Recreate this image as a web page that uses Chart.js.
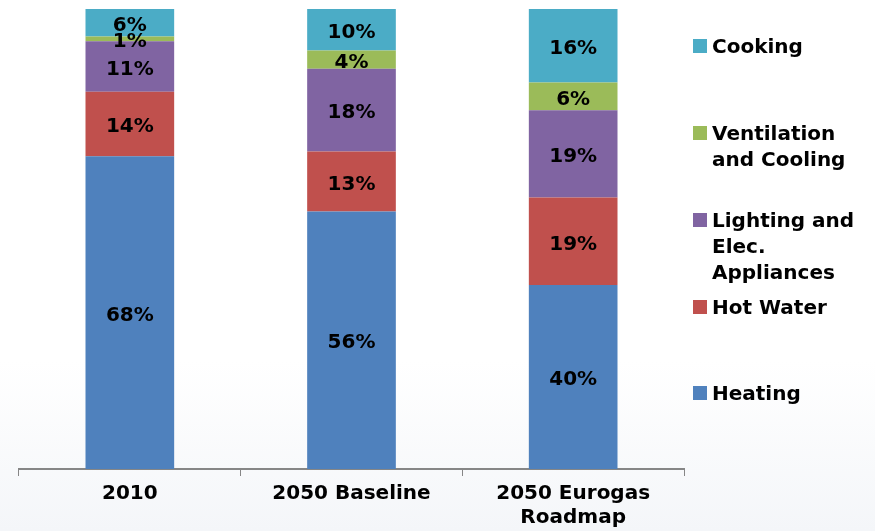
<!DOCTYPE html>
<html lang="en">
<head>
    <meta charset="UTF-8">
    <title> Energy use shares </title>
    <style>
        html, body { margin: 0; padding: 0; }
        body {
            width: 875px; height: 531px; overflow: hidden; position: relative;
            background: linear-gradient(180deg, #ffffff 0%, #ffffff 68%, #f4f6f9 100%);
            font-family: "DejaVu Sans", Verdana, sans-serif;
        }
        #wrap { position: absolute; left: 0; top: 0; width: 875px; height: 531px; }
        .leg { position: absolute; left: 693px; font-weight: bold; font-size: 20px; line-height: 26px; color: #000; }
        .leg .box { position: absolute; left: 0; top: 6px; width: 14px; height: 14px; }
        .leg .txt { position: absolute; left: 19px; top: 0; width: 170px; }
    </style>
</head>
<body>
    <div id="wrap"><canvas id="chart" width="875" height="531"></canvas></div>
    <div id="legend"></div>
</body>
<script src="https://cdn.jsdelivr.net/npm/chart.js@4/dist/chart.umd.min.js"></script>
<script>
    // data (percent of total)
    const categories = ['2010', '2050 Baseline', ['2050 Eurogas', 'Roadmap']]
    const heating    = [68, 56, 40]
    const hotWater   = [14, 13, 19]
    const lighting   = [11, 18, 19]
    const ventil     = [1, 4, 6]
    const cooking    = [6, 10, 16]

    const names  = ['Heating', 'Hot Water', 'Lighting and Elec. Appliances', 'Ventilation and Cooling', 'Cooking']
    const colors = ['#4F81BD', '#C0504D', '#8064A2', '#9BBB59', '#4BACC6']

    // legend lines and where each entry sits
    const legendLines = [['Cooking'], ['Ventilation', 'and Cooling'], ['Lighting and', 'Elec.', 'Appliances'], ['Hot Water'], ['Heating']]
    const legendColors = ['#4BACC6', '#9BBB59', '#8064A2', '#C0504D', '#4F81BD']
    const legendTops = [33, 120, 207, 294, 380]

    const legend = document.querySelector('#legend')
    legendLines.forEach((lines, i) => {
        const d = document.createElement('div')
        d.className = 'leg'
        d.style.top = legendTops[i] + 'px'
        d.innerHTML = '<div class="box" style="background:' + legendColors[i] + '"></div><div class="txt">' + lines.join('<br>') + '</div>'
        legend.appendChild(d)
    })

    // write the percent in the middle of every segment
    const segLabels = {
        id: 'segLabels',
        afterDatasetsDraw(chart) {
            const ctx = chart.ctx
            ctx.save()
            ctx.font = 'bold 20px "DejaVu Sans"'
            ctx.fillStyle = '#000'
            ctx.textAlign = 'center'
            ctx.textBaseline = 'middle'
            chart.data.datasets.forEach((ds, di) => {
                chart.getDatasetMeta(di).data.forEach((bar, i) => {
                    const p = bar.getProps(['x', 'y', 'base'], true)
                    const top = Math.max(p.y, chart.chartArea.top)
                    ctx.fillText(ds.data[i] + '%', p.x, (top + p.base) / 2 + 3)
                })
            })
            ctx.restore()
        }
    }

    const series = [heating, hotWater, lighting, ventil, cooking]

    new Chart(document.getElementById('chart').getContext('2d'), {
        type: 'bar',
        data: {
            labels: categories,
            datasets: series.map((s, i) => ({
                label: names[i],
                data: s,
                backgroundColor: colors[i],
                borderWidth: 0,
                categoryPercentage: 1,
                barPercentage: 0.4
            }))
        },
        options: {
            responsive: false,
            animation: false,
            layout: { padding: { left: 19, right: 191, top: 9, bottom: 0 } },
            plugins: { legend: { display: false }, tooltip: { enabled: false } },
            scales: {
                x: {
                    stacked: true,
                    afterFit: (scale) => { scale.height = 62 },
                    border: { display: true, color: '#868686', width: 2 },
                    grid: { offset: true, drawOnChartArea: false, drawTicks: true, tickLength: 7, color: '#868686', lineWidth: 1 },
                    ticks: { color: '#000', padding: 6, font: { family: 'DejaVu Sans', size: 20, weight: 'bold', lineHeight: 1.2 } }
                },
                y: {
                    stacked: true,
                    display: false,
                    min: 0,
                    max: 100
                }
            }
        },
        plugins: [segLabels]
    })
</script>
</html>
